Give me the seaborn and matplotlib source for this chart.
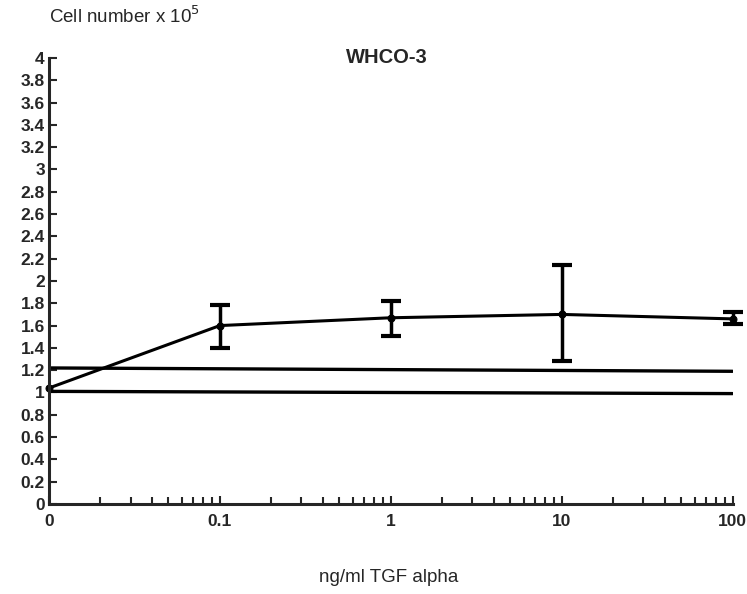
import numpy as np
import pandas as pd
import matplotlib
matplotlib.use("Agg")
import matplotlib.pyplot as plt
import matplotlib.ticker as mticker
import seaborn as sns

# data
dose_labels = ["0", "0.1", "1", "10", "100"]
dose_pos = [0.01, 0.1, 1, 10, 100]          # "0" drawn at the 0.01 decade position
cell_mean = [1.04, 1.60, 1.67, 1.70, 1.66]
err_low = [1.04, 1.40, 1.51, 1.28, 1.61]
err_high = [1.04, 1.78, 1.82, 2.14, 1.72]
ctrl_x = [0.01, 100]
ctrl_upper = [1.22, 1.19]
ctrl_lower = [1.01, 0.99]
yticks = [0, 0.2, 0.4, 0.6, 0.8, 1, 1.2, 1.4, 1.6, 1.8, 2, 2.2, 2.4, 2.6, 2.8, 3, 3.2, 3.4, 3.6, 3.8, 4]

sns.set_style("ticks")
plt.rcParams['font.family'] = ['Liberation Sans', 'DejaVu Sans']

fig = plt.figure(figsize=(7.47, 5.94), dpi=100)
ax = fig.add_axes([0.0656, 0.1515, 0.915, 0.751])

df = pd.DataFrame({"dose": dose_pos, "cells": cell_mean})
sns.lineplot(data=df, x="dose", y="cells", ax=ax, color="black", lw=2.2,
             marker="o", markersize=5, markeredgecolor="black", clip_on=False)
mask = [i for i in range(len(dose_pos)) if err_high[i] != err_low[i]]
eb = ax.errorbar([dose_pos[i] for i in mask], [cell_mean[i] for i in mask],
                 yerr=[[cell_mean[i] - err_low[i] for i in mask],
                       [err_high[i] - cell_mean[i] for i in mask]],
                 fmt="none", ecolor="black", elinewidth=2.5, capsize=7, capthick=3)
for art in eb.get_children():
    art.set_clip_on(False)

ctrl = pd.DataFrame({"x": ctrl_x * 2, "y": ctrl_upper + ctrl_lower,
                     "g": ["upper"] * 2 + ["lower"] * 2})
sns.lineplot(data=ctrl, x="x", y="y", units="g", estimator=None, ax=ax,
             color="black", lw=2.4)

ax.set_xscale("log")
ax.set_xlim(0.01, 100)
ax.set_ylim(0, 4)
ax.set_xticks(dose_pos)
ax.set_xticklabels(dose_labels)
ax.xaxis.set_minor_locator(mticker.LogLocator(base=10, subs=np.arange(2, 10)))
ax.xaxis.set_minor_formatter(mticker.NullFormatter())
ax.set_yticks(yticks)
ax.set_yticklabels([f"{v:g}" for v in yticks])

ax.tick_params(axis="x", which="major", direction="in", length=6, width=1.5,
               pad=7, labelsize=12.5)
ax.tick_params(axis="x", which="minor", direction="in", length=5, width=1.5)
ax.tick_params(axis="y", which="major", direction="in", length=6, width=1.5,
               pad=3, labelsize=12.5)
for lab in ax.get_xticklabels() + ax.get_yticklabels():
    lab.set_fontweight("bold")

sns.despine(ax=ax)
ax.spines["left"].set_linewidth(2.2)
ax.spines["bottom"].set_linewidth(2.2)
ax.set_xlabel("")
ax.set_ylabel("")

fig.text(0.066, 0.972, r"Cell number x 10$^{5}$", fontsize=13.5, ha="left", va="center")
ax.text(0.495, 1.0, "WHCO-3", transform=ax.transAxes, fontsize=14.5,
        fontweight="bold", ha="center", va="center")
fig.text(0.52, 0.027, "ng/ml TGF alpha", fontsize=13.5, ha="center", va="center")

fig.savefig("out.png", dpi=100, facecolor="white")
